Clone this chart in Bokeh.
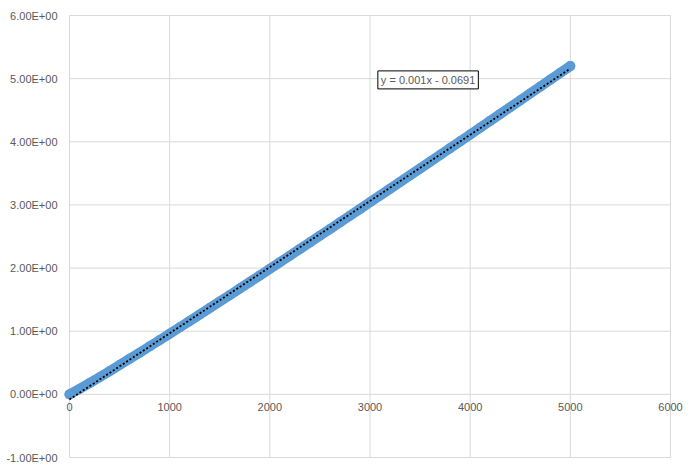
import numpy as np
from bokeh.plotting import figure
from bokeh.models import Range1d, Label, ColumnDataSource
from bokeh.core.properties import value
from bokeh.embed import file_html
from bokeh.resources import INLINE

# Data
x_vals = [0, 100, 200, 300, 400, 500, 600, 700, 800, 900,
          1000, 1100, 1200, 1300, 1400, 1500, 1600, 1700, 1800, 1900,
          2000, 2100, 2200, 2300, 2400, 2500, 2600, 2700, 2800, 2900,
          3000, 3100, 3200, 3300, 3400, 3500, 3600, 3700, 3800, 3900,
          4000, 4100, 4200, 4300, 4400, 4500, 4600, 4700, 4800, 4900, 5000]
y_vals = [0.0, 0.086, 0.177, 0.271, 0.367, 0.464, 0.562, 0.660, 0.760, 0.859,
          0.960, 1.061, 1.163, 1.265, 1.367, 1.470, 1.572, 1.676, 1.780, 1.883,
          1.988, 2.092, 2.197, 2.302, 2.407, 2.513, 2.618, 2.724, 2.830, 2.936,
          3.043, 3.149, 3.256, 3.363, 3.470, 3.577, 3.684, 3.792, 3.900, 4.007,
          4.115, 4.223, 4.332, 4.440, 4.549, 4.657, 4.766, 4.875, 4.984, 5.093, 5.200]

x_ticks = [0, 1000, 2000, 3000, 4000, 5000, 6000]
x_tick_labels = ["0", "1000", "2000", "3000", "4000", "5000", "6000"]
y_ticks = [-1, 0, 1, 2, 3, 4, 5, 6]
y_tick_labels = ["-1.00E+00", "0.00E+00", "1.00E+00", "2.00E+00",
                 "3.00E+00", "4.00E+00", "5.00E+00", "6.00E+00"]
trend_text = "y = 0.001x - 0.0691"

FONT = "Liberation Sans"
TXT = "#595959"
GRID = "#d9d9d9"
BLUE = "#5B9BD5"

# page layout: plot area from px 69..670 (x) and 15..457 (y)
W, H = 683, 466
PL, PR, PT, PB = 69, 670, 15, 457
xmin, xmax = x_ticks[0], x_ticks[-1]
ymin, ymax = y_ticks[0], y_ticks[-1]
sx = (PR - PL) / (xmax - xmin)
sy = (PB - PT) / (ymax - ymin)
x_range = Range1d(xmin - PL / sx, xmin + (W - PL) / sx)
y_range = Range1d(ymin - (H - PB) / sy, ymax + PT / sy)

p = figure(width=W, height=H, min_border=0, x_range=x_range, y_range=y_range,
           output_backend="svg", toolbar_location=None,
           background_fill_color="white", border_fill_color="white")
p.outline_line_color = None
p.axis.visible = False
p.grid.visible = False

# gridlines (plot-area frame included)
p.segment(x0=x_ticks, y0=[ymin] * len(x_ticks), x1=x_ticks, y1=[ymax] * len(x_ticks),
          line_color=GRID, line_width=1)
p.segment(x0=[xmin] * len(y_ticks), y0=y_ticks, x1=[xmax] * len(y_ticks), y1=y_ticks,
          line_color=GRID, line_width=1)

# y tick labels
p.text(x=[xmin] * len(y_ticks), y=y_ticks, text=y_tick_labels, text_align="right",
       text_baseline="middle", x_offset=-12, text_font=value(FONT),
       text_font_size="11px", text_color=TXT)
# x tick labels at the y = 0 crossing
p.text(x=x_ticks, y=[0] * len(x_ticks), text=x_tick_labels, text_align="center",
       text_baseline="top", y_offset=9, text_font=value(FONT),
       text_font_size="11px", text_color=TXT)

src = ColumnDataSource(dict(x=x_vals, y=y_vals))
p.line("x", "y", source=src, line_color=BLUE, line_width=10, line_cap="round",
       line_join="round")
p.scatter("x", "y", source=src, size=10, marker="circle", fill_color=BLUE,
          line_color=None)

# linear trendline fitted to the series
slope, intercept = np.polyfit(np.array(x_vals, float), np.array(y_vals, float), 1)
tx = [x_vals[0], x_vals[-1]]
ty = [slope * t + intercept for t in tx]
p.line(tx, ty, line_color="black", line_width=1.8, line_dash="2 2")

lab = Label(x=3580, y=4.98, text=trend_text, text_align="center",
            text_baseline="middle", text_font=FONT, text_font_size="11px",
            text_color=TXT, border_line_color="black", border_line_width=1,
            background_fill_color="white", padding=3)
p.add_layout(lab)

open("out.html", "w").write(file_html(p, INLINE))
